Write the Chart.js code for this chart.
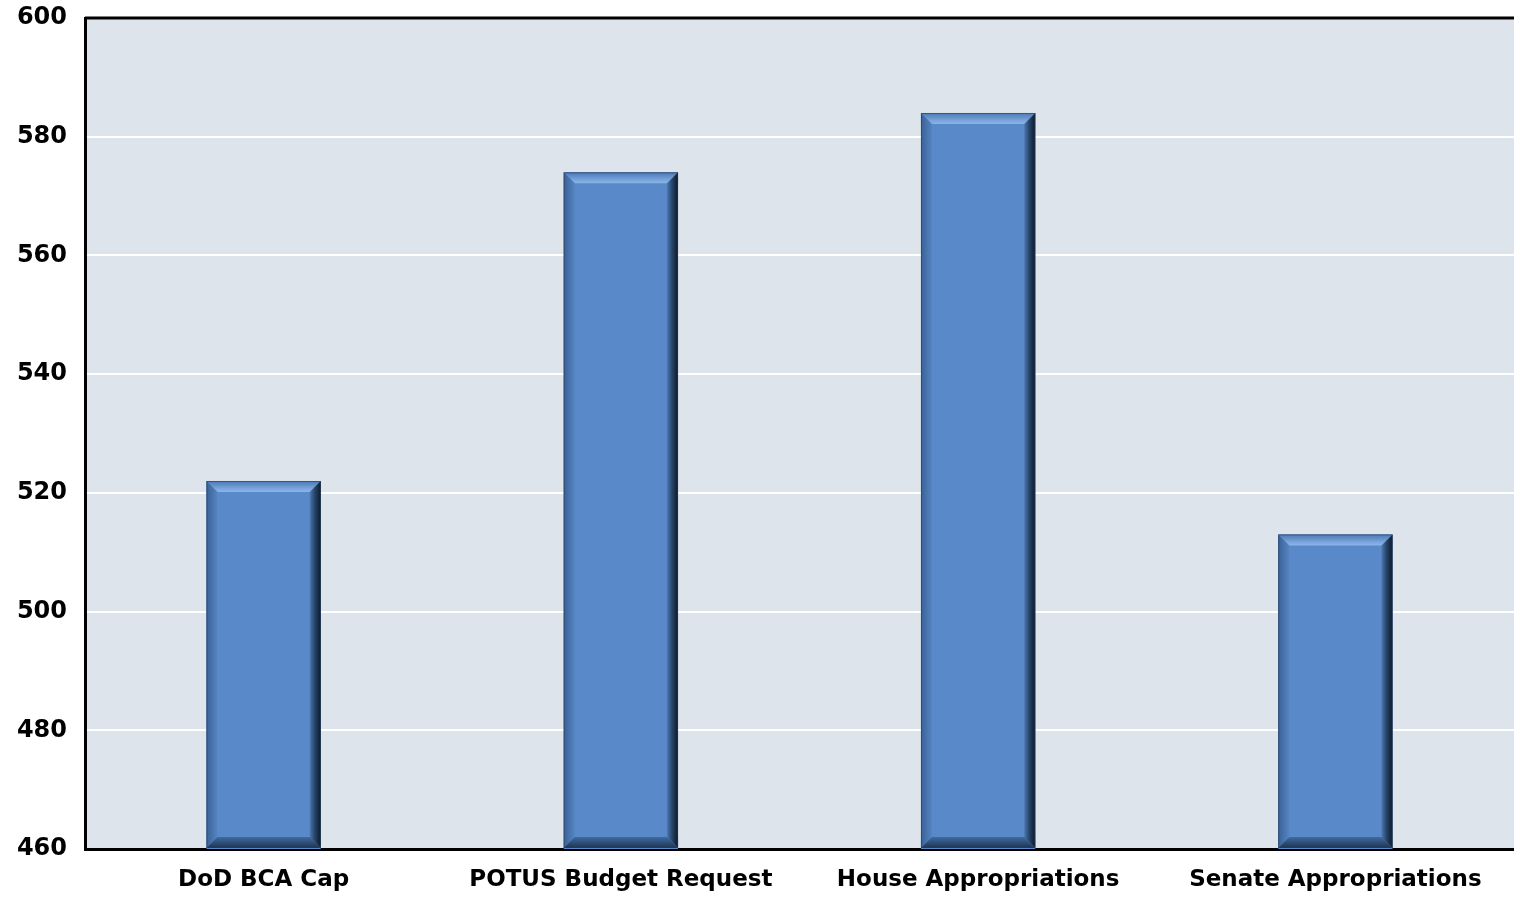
<!DOCTYPE html>
<html>
<head>
<meta charset="utf-8">
<script src="https://cdn.jsdelivr.net/npm/chart.js@4"></script>
<style>
  html, body { margin: 0; padding: 0; background: #fff; }
  #wrap { width: 1514px; height: 897px; }
</style>
</head>
<body>
<div id="wrap"><canvas id="budgetChart"></canvas></div>
<script>
// Budget levels (billions)
const categories = ['DoD BCA Cap', 'POTUS Budget Request', 'House Appropriations', 'Senate Appropriations'];
const amounts = [522, 574, 584, 513];
const yMin = 460;
const yMax = 600;
const yStep = 20;

// Plot area background plus top frame line
const plotFrame = {
  id: 'plotFrame',
  beforeDraw(chart) {
    const { ctx, chartArea: a } = chart;
    ctx.save();
    ctx.fillStyle = '#dde4eb';
    ctx.fillRect(a.left, a.top, a.right - a.left, a.bottom - a.top);
    ctx.restore();
  },
  afterDraw(chart) {
    const { ctx, chartArea: a } = chart;
    ctx.save();
    ctx.strokeStyle = '#000';
    ctx.lineWidth = 3;
    ctx.beginPath();
    ctx.moveTo(a.left, a.top);
    ctx.lineTo(a.right, a.top);
    ctx.stroke();
    ctx.restore();
  }
};

// Bevelled edges on each bar
const bevel = {
  id: 'bevel',
  afterDatasetsDraw(chart) {
    const ctx = chart.ctx;
    const b = 11;
    chart.getDatasetMeta(0).data.forEach(bar => {
      const l = bar.x - bar.width / 2, r = bar.x + bar.width / 2;
      const t = bar.y, btm = Math.min(bar.base, chart.chartArea.bottom) - 1;
      ctx.save();
      const poly = (pts, fill) => {
        ctx.beginPath();
        ctx.moveTo(pts[0][0], pts[0][1]);
        pts.slice(1).forEach(p => ctx.lineTo(p[0], p[1]));
        ctx.closePath();
        ctx.fillStyle = fill;
        ctx.fill();
      };
      // top
      let g = ctx.createLinearGradient(0, t, 0, t + b);
      g.addColorStop(0, '#4b78b4');
      g.addColorStop(0.7, '#7aa5dd');
      g.addColorStop(1, '#8cb4e6');
      poly([[l, t], [r, t], [r - b, t + b], [l + b, t + b]], g);
      // left
      g = ctx.createLinearGradient(l, 0, l + b, 0);
      g.addColorStop(0, '#3a6196');
      g.addColorStop(1, '#5584c2');
      poly([[l, t], [l + b, t + b], [l + b, btm - b], [l, btm]], g);
      // right
      g = ctx.createLinearGradient(r - b, 0, r, 0);
      g.addColorStop(0, '#4a77b0');
      g.addColorStop(0.45, '#27456a');
      g.addColorStop(1, '#0c1828');
      poly([[r, t], [r, btm], [r - b, btm - b], [r - b, t + b]], g);
      // bottom
      g = ctx.createLinearGradient(0, btm - b, 0, btm);
      g.addColorStop(0, '#3f6aa2');
      g.addColorStop(1, '#1e3452');
      poly([[l, btm], [r, btm], [r - b, btm - b], [l + b, btm - b]], g);
      ctx.strokeStyle = 'rgba(40,60,90,0.6)';
      ctx.lineWidth = 1;
      ctx.strokeRect(l + 0.5, t + 0.5, r - l - 1, btm - t - 1);
      ctx.restore();
    });
  }
};

new Chart(document.getElementById('budgetChart'), {
  type: 'bar',
  data: {
    labels: categories,
    datasets: [{
      data: amounts,
      backgroundColor: '#5a89c9',
      borderWidth: 0,
      barPercentage: 0.32,
      categoryPercentage: 1
    }]
  },
  options: {
    responsive: true,
    maintainAspectRatio: false,
    animation: false,
    layout: { padding: { top: 18, right: 0, bottom: 0, left: 0 } },
    plugins: {
      legend: { display: false },
      tooltip: { enabled: false }
    },
    scales: {
      x: {
        afterFit(scale) { scale.height = 48; scale.paddingLeft = 0; scale.paddingRight = 0; },
        grid: { display: false },
        border: { display: true, color: '#000', width: 3 },
        ticks: {
          color: '#000',
          padding: 9,
          maxRotation: 0,
          font: { family: 'DejaVu Sans', size: 23, weight: 'bold' }
        }
      },
      y: {
        min: yMin,
        max: yMax,
        afterFit(scale) { scale.width = 85; scale.paddingTop = 0; scale.paddingBottom = 0; },
        grid: { color: '#ffffff', lineWidth: 2, drawTicks: false },
        border: { display: true, color: '#000', width: 3 },
        ticks: {
          stepSize: yStep,
          color: '#000',
          padding: 18,
          font: { family: 'DejaVu Sans', size: 24, weight: 'bold' }
        }
      }
    }
  },
  plugins: [plotFrame, bevel]
});
</script>
</body>
</html>
